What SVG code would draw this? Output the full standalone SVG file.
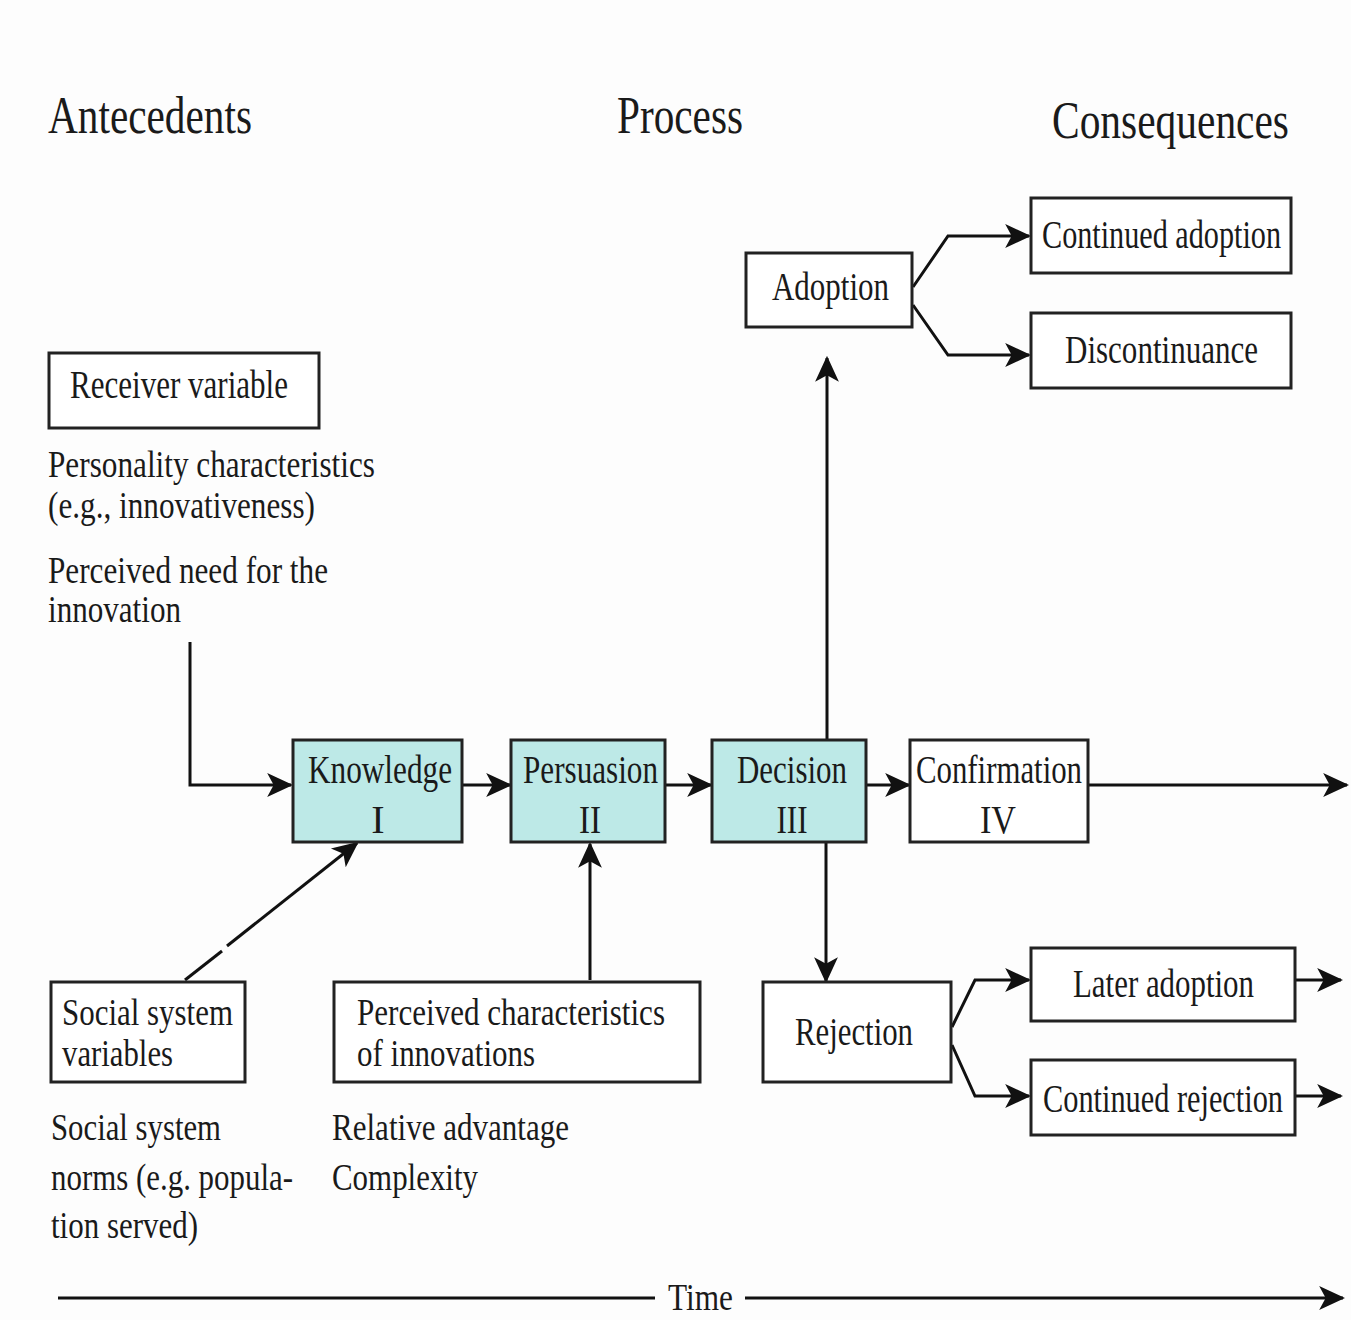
<svg xmlns="http://www.w3.org/2000/svg" width="1351" height="1320" viewBox="0 0 1351 1320">
<style>
text{font-family:"Liberation Serif","Times New Roman",serif;fill:#1a1a1a}
.t{font-size:52px}
.b{font-size:40px}
.b2{font-size:37px}
.l{font-size:38px}
.box{fill:#fff;stroke:#222;stroke-width:3}
.teal{fill:#bde9e7;stroke:#222;stroke-width:3}
.c{fill:none;stroke:#111;stroke-width:3}
</style>
<defs>
<marker id="ah" markerUnits="userSpaceOnUse" markerWidth="26" markerHeight="26" viewBox="0 0 24 22" refX="22" refY="11" orient="auto">
<path d="M0,0 L24,11 L0,22 L6,11 z" fill="#111"/>
</marker>
</defs>
<rect width="1351" height="1320" fill="#fdfdfd"/>
<g id="headings">
<text class="t" x="48" y="133" textLength="204" lengthAdjust="spacingAndGlyphs">Antecedents</text>
<text class="t" x="617" y="133" textLength="126" lengthAdjust="spacingAndGlyphs">Process</text>
<text class="t" x="1052" y="138" textLength="237" lengthAdjust="spacingAndGlyphs">Consequences</text>
</g>
<g id="connectors">
<polyline class="c" points="190,642 190,785 291,785" marker-end="url(#ah)"/>
<line class="c" x1="462" y1="785" x2="510" y2="785" marker-end="url(#ah)"/>
<line class="c" x1="665" y1="785" x2="711" y2="785" marker-end="url(#ah)"/>
<line class="c" x1="866" y1="785" x2="909" y2="785" marker-end="url(#ah)"/>
<line class="c" x1="1088" y1="785" x2="1347" y2="785" marker-end="url(#ah)"/>
<line class="c" x1="827" y1="740" x2="827" y2="358" marker-end="url(#ah)"/>
<line class="c" x1="826" y1="842" x2="826" y2="981" marker-end="url(#ah)"/>
<line class="c" x1="185" y1="980" x2="222" y2="951"/>
<line class="c" x1="227" y1="946" x2="357" y2="843" marker-end="url(#ah)"/>
<line class="c" x1="590" y1="980" x2="590" y2="844" marker-end="url(#ah)"/>
<polyline class="c" points="913,287 948,236 1029,236" marker-end="url(#ah)"/>
<polyline class="c" points="913,305 948,355 1029,355" marker-end="url(#ah)"/>
<polyline class="c" points="952,1027 975,980 1029,980" marker-end="url(#ah)"/>
<polyline class="c" points="952,1045 975,1096 1029,1096" marker-end="url(#ah)"/>
<line class="c" x1="1295" y1="980" x2="1341" y2="980" marker-end="url(#ah)"/>
<line class="c" x1="1295" y1="1096" x2="1341" y2="1096" marker-end="url(#ah)"/>
<line class="c" x1="58" y1="1298" x2="655" y2="1298"/>
<line class="c" x1="745" y1="1298" x2="1343" y2="1298" marker-end="url(#ah)"/>
</g>
<g id="time-label">
<text class="l" x="668" y="1310" textLength="65" lengthAdjust="spacingAndGlyphs">Time</text>
</g>
<g id="continued-adoption">
<rect class="box" x="1031" y="198" width="260" height="75"/>
<text class="b" x="1042" y="248" textLength="239" lengthAdjust="spacingAndGlyphs">Continued adoption</text>
</g>
<g id="discontinuance">
<rect class="box" x="1031" y="313" width="260" height="75"/>
<text class="b" x="1065" y="363" textLength="193" lengthAdjust="spacingAndGlyphs">Discontinuance</text>
</g>
<g id="adoption">
<rect class="box" x="746" y="253" width="166" height="74"/>
<text class="b" x="772" y="300" textLength="117" lengthAdjust="spacingAndGlyphs">Adoption</text>
</g>
<g id="receiver-variable">
<rect class="box" x="49" y="353" width="270" height="75"/>
<text class="b" x="70" y="398" textLength="218" lengthAdjust="spacingAndGlyphs">Receiver variable</text>
</g>
<g id="receiver-notes">
<text class="l" x="48" y="477" textLength="327" lengthAdjust="spacingAndGlyphs">Personality characteristics</text>
<text class="l" x="48" y="518" textLength="267" lengthAdjust="spacingAndGlyphs">(e.g., innovativeness)</text>
<text class="l" x="48" y="583" textLength="280" lengthAdjust="spacingAndGlyphs">Perceived need for the</text>
<text class="l" x="48" y="622" textLength="133" lengthAdjust="spacingAndGlyphs">innovation</text>
</g>
<g id="knowledge">
<rect class="teal" x="293" y="740" width="169" height="102"/>
<text class="b" x="308" y="783" textLength="144" lengthAdjust="spacingAndGlyphs">Knowledge</text>
<text class="b" x="378" y="833" text-anchor="middle">I</text>
</g>
<g id="persuasion">
<rect class="teal" x="511" y="740" width="154" height="102"/>
<text class="b" x="523" y="783" textLength="135" lengthAdjust="spacingAndGlyphs">Persuasion</text>
<text class="b" x="590" y="833" text-anchor="middle" textLength="22" lengthAdjust="spacingAndGlyphs">II</text>
</g>
<g id="decision">
<rect class="teal" x="712" y="740" width="154" height="102"/>
<text class="b" x="737" y="783" textLength="110" lengthAdjust="spacingAndGlyphs">Decision</text>
<text class="b" x="792" y="833" text-anchor="middle" textLength="31" lengthAdjust="spacingAndGlyphs">III</text>
</g>
<g id="confirmation">
<rect class="box" x="910" y="740" width="178" height="102"/>
<text class="b" x="916" y="783" textLength="166" lengthAdjust="spacingAndGlyphs">Confirmation</text>
<text class="b" x="998" y="833" text-anchor="middle" textLength="36" lengthAdjust="spacingAndGlyphs">IV</text>
</g>
<g id="rejection">
<rect class="box" x="763" y="982" width="188" height="100"/>
<text class="b" x="795" y="1045" textLength="118" lengthAdjust="spacingAndGlyphs">Rejection</text>
</g>
<g id="later-adoption">
<rect class="box" x="1031" y="948" width="264" height="73"/>
<text class="b" x="1073" y="997" textLength="181" lengthAdjust="spacingAndGlyphs">Later adoption</text>
</g>
<g id="continued-rejection">
<rect class="box" x="1031" y="1060" width="264" height="75"/>
<text class="b" x="1043" y="1112" textLength="240" lengthAdjust="spacingAndGlyphs">Continued rejection</text>
</g>
<g id="social-system-variables">
<rect class="box" x="51" y="982" width="194" height="100"/>
<text class="b2" x="62" y="1025" textLength="171" lengthAdjust="spacingAndGlyphs">Social system</text>
<text class="b2" x="62" y="1066" textLength="111" lengthAdjust="spacingAndGlyphs">variables</text>
</g>
<g id="perceived-characteristics">
<rect class="box" x="334" y="982" width="366" height="100"/>
<text class="b2" x="357" y="1025" textLength="308" lengthAdjust="spacingAndGlyphs">Perceived characteristics</text>
<text class="b2" x="357" y="1066" textLength="178" lengthAdjust="spacingAndGlyphs">of innovations</text>
</g>
<g id="social-notes">
<text class="l" x="51" y="1140" textLength="170" lengthAdjust="spacingAndGlyphs">Social system</text>
<text class="l" x="51" y="1190" textLength="242" lengthAdjust="spacingAndGlyphs">norms (e.g. popula-</text>
<text class="l" x="51" y="1238" textLength="147" lengthAdjust="spacingAndGlyphs">tion served)</text>
</g>
<g id="innovation-notes">
<text class="l" x="332" y="1140" textLength="237" lengthAdjust="spacingAndGlyphs">Relative advantage</text>
<text class="l" x="332" y="1190" textLength="146" lengthAdjust="spacingAndGlyphs">Complexity</text>
</g>
</svg>
